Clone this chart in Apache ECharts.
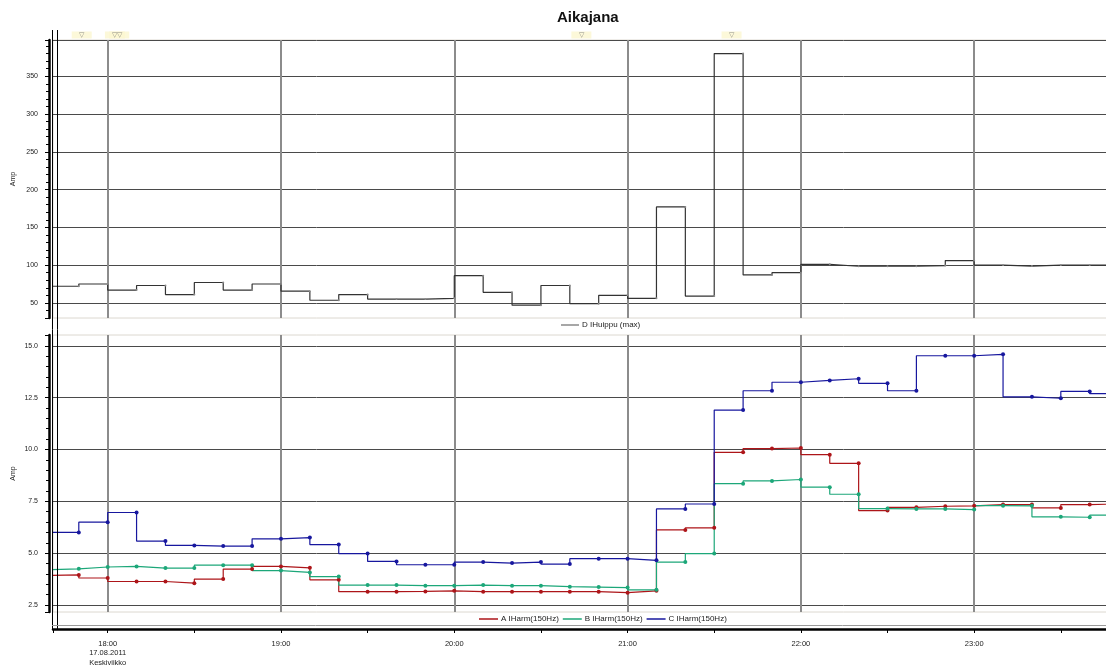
<!DOCTYPE html>
<html>
<head>
<meta charset="utf-8">
<title>Aikajana</title>
<script src="https://cdn.jsdelivr.net/npm/echarts@6/dist/echarts.min.js"></script>
<style>
  html, body { margin: 0; padding: 0; background: #fff; }
  #chart { width: 1106px; height: 666px; }
</style>
</head>
<body>
<div id="chart"></div>
<script>
(function() {
  var day = [2011, 7, 17];
  var dateLabel = '17.08.2011';
  var weekdayLabel = 'Keskiviikko';
  var viewStart = '17:41:04';
  var viewEnd = '23:48:04';

  // 10 minute readings, each value holds for the interval that ends at its time
  var times = ['17:40', '17:50', '18:00', '18:10', '18:20', '18:30', '18:40', '18:50',
    '19:00', '19:10', '19:20', '19:30', '19:40', '19:50', '20:00', '20:10', '20:20',
    '20:30', '20:40', '20:50', '21:00', '21:10', '21:20', '21:30', '21:40', '21:50',
    '22:00', '22:10', '22:20', '22:30', '22:40', '22:50', '23:00', '23:10', '23:20',
    '23:30', '23:40', '23:50'];
  var peakD = [72, 72, 75, 67, 73, 61, 77, 67, 75, 65.5, 53.5, 61, 55, 55, 56, 86, 64,
    47, 73, 49, 60, 56, 177, 59, 380, 87, 90, 101, 98.5, 98.5, 98.5, 99.4, 106, 100,
    98.7, 100, 100, 100];
  var harmA = [3.92, 3.95, 3.8, 3.63, 3.63, 3.55, 3.75, 4.23, 4.36, 4.29, 3.71, 3.14,
    3.14, 3.15, 3.18, 3.14, 3.14, 3.14, 3.14, 3.14, 3.09, 3.18, 6.12, 6.22, 9.86, 10.04,
    10.07, 9.75, 9.33, 7.05, 7.21, 7.26, 7.28, 7.34, 7.34, 7.18, 7.34, 7.37];
  var harmB = [4.2, 4.24, 4.33, 4.36, 4.28, 4.28, 4.42, 4.42, 4.16, 4.07, 3.87, 3.46,
    3.46, 3.43, 3.43, 3.46, 3.43, 3.43, 3.38, 3.36, 3.34, 3.23, 4.57, 4.98, 8.35, 8.48,
    8.55, 8.18, 7.84, 7.15, 7.13, 7.13, 7.1, 7.29, 7.28, 6.75, 6.73, 6.83];
  var harmC = [6.0, 6.0, 6.49, 6.96, 5.58, 5.37, 5.34, 5.34, 5.69, 5.75, 5.41, 4.98,
    4.6, 4.44, 4.44, 4.57, 4.52, 4.57, 4.47, 4.73, 4.73, 4.65, 7.13, 7.37, 11.9, 12.83,
    13.24, 13.33, 13.41, 13.19, 12.83, 14.52, 14.52, 14.59, 12.54, 12.47, 12.8, 12.69];
  var eventTimes = ['17:51', '18:02:30', '18:04', '20:44', '21:36'];

  var peakRange = [30, 398];
  var harmRange = [2.16, 15.52];

  var font = 'Liberation Sans, Arial, sans-serif';
  var gridLine = '#4a4a4a';
  var hourLine = '#8c8c8c';
  var frame = '#dcd8d0';
  var colA = '#ad1519';
  var colB = '#1ca779';
  var colC = '#17179e';

  function toTime(s) {
    var p = s.split(':');
    return new Date(day[0], day[1], day[2], +p[0], +p[1], +(p[2] || 0)).getTime();
  }
  function pairs(values) {
    return times.map(function(t, i) { return [toTime(t), values[i]]; });
  }
  function pad(n) { return (n < 10 ? '0' : '') + n; }

  var tMin = toTime(viewStart);
  var tMax = toTime(viewEnd);
  var hour = 3600 * 1000;

  function hourAxis(gridIndex) {
    return {
      type: 'time',
      gridIndex: gridIndex,
      position: 'bottom',
      min: tMin,
      max: tMax,
      minInterval: hour,
      maxInterval: hour,
      axisLine: { show: false },
      axisTick: { show: false },
      axisLabel: { show: false },
      splitLine: { show: true, showMinLine: false, showMaxLine: false,
        lineStyle: { color: hourLine, width: 2 } }
    };
  }

  function ampAxis(gridIndex, range, step, fmt) {
    return {
      type: 'value',
      gridIndex: gridIndex,
      min: range[0],
      max: range[1],
      minInterval: step,
      maxInterval: step,
      offset: 4,
      name: 'Amp',
      nameLocation: 'middle',
      nameGap: 32,
      nameMoveOverlap: false,
      nameTextStyle: { fontSize: 7, color: '#222', fontFamily: font },
      axisLine: { show: true, lineStyle: { color: '#000', width: 2.5 } },
      axisTick: { show: true, length: 4, lineStyle: { color: '#000' } },
      minorTick: { show: true, splitNumber: 5, length: 3, lineStyle: { color: '#000' } },
      axisLabel: {
        fontSize: 7, color: '#222', fontFamily: font, margin: 11,
        formatter: function(v) {
          var k = v / step;
          return Math.abs(k - Math.round(k)) < 1e-6 ? fmt(v) : '';
        }
      },
      splitLine: { show: true, showMinLine: false, showMaxLine: gridIndex === 0,
        lineStyle: { color: gridLine, width: 1 } }
    };
  }

  function harmSeries(name, values, color) {
    return {
      name: name,
      type: 'line',
      xAxisIndex: 1,
      yAxisIndex: 1,
      step: 'start',
      data: pairs(values),
      symbol: 'circle',
      symbolSize: 4,
      lineStyle: { color: color, width: 1.2 },
      itemStyle: { color: color }
    };
  }

  var bottomAxis = hourAxis(1);
  bottomAxis.offset = 17;
  bottomAxis.axisLine = { show: true, lineStyle: { color: '#000', width: 2.5 } };
  bottomAxis.axisTick = { show: true, length: 4, lineStyle: { color: '#000' } };
  bottomAxis.axisLabel = {
    show: true, fontSize: 7.5, lineHeight: 9.5, color: '#222', fontFamily: font, margin: 10,
    formatter: function(v) {
      var d = new Date(v);
      if (d.getMinutes() !== 0 || d.getSeconds() !== 0) return '';
      var s = pad(d.getHours()) + ':00';
      if (d.getHours() === 18) s += '\n' + dateLabel + '\n' + weekdayLabel;
      return s;
    }
  };

  // half hour ticks under the axis line
  var halfHourAxis = hourAxis(1);
  halfHourAxis.minInterval = hour / 2 + 60000;
  halfHourAxis.maxInterval = hour / 2 + 60000;
  halfHourAxis.offset = 17;
  halfHourAxis.axisTick = { show: true, length: 4, lineStyle: { color: '#000' } };
  halfHourAxis.splitLine = { show: false };

  var chart = echarts.init(document.getElementById('chart'), null, { renderer: 'canvas' });
  chart.setOption({
    animation: false,
    backgroundColor: '#fff',
    textStyle: { fontFamily: font },
    title: {
      text: 'Aikajana',
      left: 557,
      top: 10,
      padding: 0,
      textStyle: { fontSize: 15, fontWeight: 'bold', color: '#111', fontFamily: font }
    },
    legend: [
      {
        data: ['D IHuippu (max)'],
        left: 561, top: 321, padding: 0,
        icon: 'rect', itemWidth: 18, itemHeight: 1.5, itemGap: 4,
        textStyle: { fontSize: 8, color: '#222', fontFamily: font, padding: [0, 0, 0, -2] }
      },
      {
        data: ['A IHarm(150Hz)', 'B IHarm(150Hz)', 'C IHarm(150Hz)'],
        left: 479, top: 615, padding: 0,
        icon: 'rect', itemWidth: 19, itemHeight: 1.5, itemGap: 4,
        textStyle: { fontSize: 8, color: '#222', fontFamily: font, padding: [0, 0, 0, -2] }
      }
    ],
    grid: [
      { left: 53, width: 1060, top: 40, height: 278, outerBoundsMode: 'none',
        show: true, borderColor: frame, borderWidth: 1 },
      { left: 53, width: 1060, top: 335, height: 277, outerBoundsMode: 'none',
        show: true, borderColor: frame, borderWidth: 1 }
    ],
    xAxis: [hourAxis(0), bottomAxis, halfHourAxis],
    yAxis: [
      ampAxis(0, peakRange, 50, function(v) { return String(v); }),
      ampAxis(1, harmRange, 2.5, function(v) { return v.toFixed(1); })
    ],
    graphic: [
      { type: 'line', shape: { x1: 52.5, y1: 30, x2: 52.5, y2: 629 }, style: { stroke: '#000', lineWidth: 1 }, z: 100 },
      { type: 'line', shape: { x1: 57.5, y1: 30, x2: 57.5, y2: 629 }, style: { stroke: '#000', lineWidth: 1 }, z: 100 },
      { type: 'line', shape: { x1: 52, y1: 625.5, x2: 1106, y2: 625.5 }, style: { stroke: '#9a9a9a', lineWidth: 1 }, z: 100 }
    ],
    series: [
      {
        name: 'D IHuippu (max)',
        type: 'line',
        xAxisIndex: 0,
        yAxisIndex: 0,
        step: 'start',
        data: pairs(peakD),
        symbol: 'circle',
        symbolSize: 2,
        lineStyle: { color: '#333', width: 1.2 },
        itemStyle: { color: '#8a8a8a' }
      },
      {
        type: 'scatter',
        xAxisIndex: 0,
        yAxisIndex: 0,
        clip: false,
        silent: true,
        data: eventTimes.map(function(t) { return [toTime(t), peakRange[1]]; }),
        symbol: 'rect',
        symbolSize: [20, 7],
        symbolOffset: [0, -5],
        itemStyle: { color: '#fbf6d0' },
        label: { show: true, position: 'inside', formatter: '\u25BD', fontSize: 7, color: '#777' }
      },
      harmSeries('A IHarm(150Hz)', harmA, colA),
      harmSeries('B IHarm(150Hz)', harmB, colB),
      harmSeries('C IHarm(150Hz)', harmC, colC)
    ]
  });
  window.addEventListener('resize', function() { chart.resize(); });
})();
</script>
</body>
</html>
